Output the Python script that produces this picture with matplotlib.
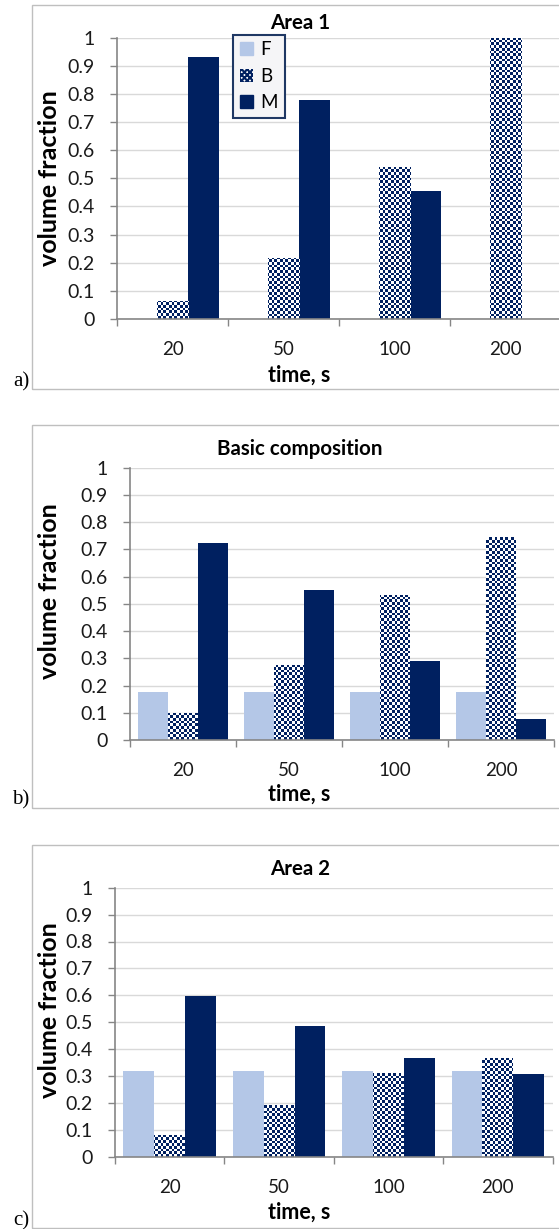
import numpy as np
import matplotlib
matplotlib.use("Agg")
import matplotlib.pyplot as plt
from matplotlib.colors import ListedColormap
from matplotlib.patches import Patch, Rectangle

# volume fractions of the three constituents vs. holding time
times = ['20', '50', '100', '200']
series = ['F', 'B', 'M']

area1_F = [0.0, 0.0, 0.0, 0.0]
area1_B = [0.064, 0.216, 0.541, 1.0]
area1_M = [0.93, 0.78, 0.455, 0.0]

basic_F = [0.175, 0.175, 0.175, 0.175]
basic_B = [0.10, 0.274, 0.534, 0.744]
basic_M = [0.722, 0.55, 0.291, 0.077]

area2_F = [0.318, 0.318, 0.318, 0.318]
area2_B = [0.082, 0.191, 0.31, 0.368]
area2_M = [0.597, 0.486, 0.368, 0.309]

yticks = [0, 0.1, 0.2, 0.3, 0.4, 0.5, 0.6, 0.7, 0.8, 0.9, 1]
ytick_labels = ['0', '0.1', '0.2', '0.3', '0.4', '0.5', '0.6', '0.7', '0.8', '0.9', '1']

LIGHT = '#b4c7e7'
NAVY = '#002060'
AXIS_GRAY = '#868686'
GRID_GRAY = '#d9d9d9'
FONT = 'Lato'

W, H = 559, 1229
plt.rcParams['font.family'] = [FONT, 'DejaVu Sans']
plt.rcParams['hatch.linewidth'] = 1.5

fig = plt.figure(figsize=(W / 100, H / 100), dpi=100)


def fx(x):
    return x / W


def fy(y):
    return 1 - y / H


def checker_bar(ax, bar, cell=2.7):
    # fill a bar with a navy/white checkerboard clipped to its outline
    bbox = ax.get_position()
    ncols = int(round(bbox.width * W / cell))
    nrows = int(round(bbox.height * H / cell))
    board = np.add.outer(np.arange(nrows), np.arange(ncols)) % 2
    img = ax.imshow(board, extent=(0, 4, 0, 1), origin='lower', aspect='auto',
                    cmap=ListedColormap(['white', NAVY]),
                    interpolation='nearest', zorder=2.5)
    img.set_clip_path(bar)


def panel(rect, F, B, M, title, letter, frame, title_y, xlabel_y,
          ylabel_y, letter_y, legend=False):
    left, top, right, bottom = rect
    ax = fig.add_axes([fx(left), fy(bottom), fx(right - left), (bottom - top) / H])
    centers = np.arange(len(times)) + 0.5
    w = 0.282
    ax.bar(centers - w, F, w, color=LIGHT, zorder=2, label='F')
    bbars = ax.bar(centers, B, w, color='white', zorder=2, label='B')
    ax.bar(centers + w, M, w, color=NAVY, zorder=2, label='M')
    for b in bbars:
        checker_bar(ax, b)

    ax.set_xlim(0, 4)
    ax.set_ylim(0, 1)
    ax.set_yticks(yticks, labels=ytick_labels)
    ax.set_xticks(centers, labels=times)
    ax.set_xticks(np.arange(0, 5), minor=True)
    ax.tick_params(axis='y', length=5, width=1, color=AXIS_GRAY, pad=11,
                   labelsize=14, labelcolor='#1a1a1a')
    ax.tick_params(axis='x', which='major', length=0, pad=16,
                   labelsize=13.5, labelcolor='#1a1a1a')
    ax.tick_params(axis='x', which='minor', length=5, width=1, color=AXIS_GRAY)
    ax.grid(axis='y', color=GRID_GRAY, lw=1, zorder=0)
    ax.set_axisbelow(True)
    for s in ['top', 'right']:
        ax.spines[s].set_visible(False)
    for s in ['left', 'bottom']:
        ax.spines[s].set_color(AXIS_GRAY)
        ax.spines[s].set_linewidth(1.2)
        ax.spines[s].set_zorder(3)

    ftop, fbottom = frame
    fig.patches.append(Rectangle((fx(32), fy(fbottom)), 1.2, (fbottom - ftop) / H,
                                 transform=fig.transFigure, fill=False,
                                 edgecolor='#bfbfbf', lw=1))
    fig.text(fx(300), fy(title_y), title, ha='center', va='center',
             fontsize=14.8, fontweight='bold')
    fig.text(fx(299), fy(xlabel_y), 'time, s', ha='center', va='center',
             fontsize=15.5, fontweight='bold')
    fig.text(fx(50), fy(ylabel_y), 'volume fraction', ha='center', va='center',
             rotation=90, fontsize=18, fontweight='bold')
    fig.text(fx(21), fy(letter_y), letter, ha='center', va='center',
             fontsize=15, family='Liberation Serif')

    if legend:
        handles = [Patch(facecolor=LIGHT, edgecolor=LIGHT),
                   Patch(facecolor='white', edgecolor=NAVY, hatch='xxxxxx', lw=0),
                   Patch(facecolor=NAVY, edgecolor=NAVY)]
        leg = ax.legend(handles, series, loc='upper left',
                        bbox_to_anchor=(0.262, 1.01), fontsize=13.5,
                        handlelength=0.7, handleheight=0.7, handletextpad=0.4,
                        labelspacing=0.5, borderpad=0.35, borderaxespad=0,
                        fancybox=False, framealpha=1)
        leg.get_frame().set_edgecolor('#1f3864')
        leg.get_frame().set_linewidth(1.5)
        leg.get_frame().set_facecolor('#f5f5f7')
        leg.set_zorder(5)
    return ax


panel((117, 37.7, 561, 319), area1_F, area1_B, area1_M, 'Area 1', 'a)',
      (5, 389), 23, 375, 178, 382, legend=True)
panel((130, 467.7, 554, 740), basic_F, basic_B, basic_M, 'Basic composition', 'b)',
      (425, 808), 449, 794, 591, 800)
panel((115, 887.7, 552.6, 1156.7), area2_F, area2_B, area2_M, 'Area 2', 'c)',
      (845, 1228), 869, 1212, 1010, 1221)

fig.savefig('out.png', dpi=100)
